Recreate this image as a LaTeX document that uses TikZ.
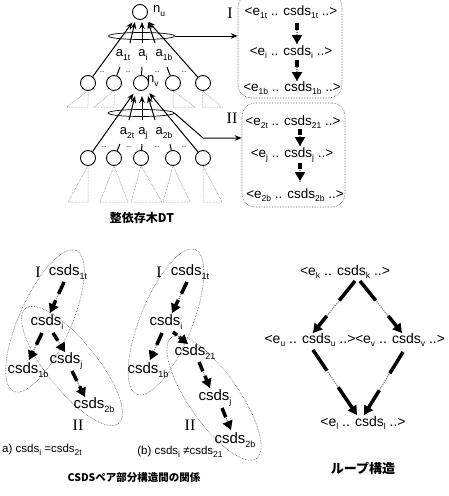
\documentclass[tikz,border=0pt]{standalone}
\usepackage{fontspec}
\setmainfont{Liberation Sans}
\newfontfamily\rmn{Liberation Serif}
\newfontfamily\cjk{Noto Sans CJK JP}
\usetikzlibrary{arrows.meta,shapes.geometric}
\newcommand\ssb[1]{\raisebox{-0.45ex}{\fontsize{8.5}{8.5}\selectfont #1}}
\newcommand\lsb[1]{\raisebox{-0.45ex}{\fontsize{9}{9}\selectfont #1}}
\newcommand\ent[2]{<e\ssb{#1} .. csds\ssb{#2} ..>}
\begin{document}
\begin{tikzpicture}[x=1pt,y=-1pt,
  txt/.style={inner sep=0pt, font=\fontsize{13.5}{14}\selectfont},
  ltxt/.style={inner sep=0pt, font=\fontsize{14}{14}\selectfont},
  low/.style={inner sep=0pt, font=\fontsize{15}{15}\selectfont},
  lab/.style={inner sep=0pt, font=\fontsize{13}{13}\selectfont},
  roman/.style={inner sep=0pt, font=\rmn\fontsize{16}{16}\selectfont},
  captx/.style={inner sep=0pt, font=\fontsize{11.5}{12}\selectfont},
  jcap/.style={inner sep=0pt, font=\cjk\bfseries\fontsize{12}{12}\selectfont},
  circ/.style={circle, draw, line width=0.9pt, minimum size=15pt, inner sep=0pt},
  ring/.style={ellipse, draw, line width=0.7pt, minimum width=66pt, minimum height=7pt, inner sep=0pt},
  tri/.style={draw, densely dotted, line width=0.5pt, black!60},
  dotsx/.style={inner sep=0pt, font=\fontsize{8}{8}\selectfont},
  tarr/.style={-{Stealth[length=7pt,width=5.5pt]}, line width=1pt},
  tick/.style={line width=1pt},
  boxd/.style={draw, densely dotted, black!65, line width=0.6pt, rounded corners=13pt},
  oval/.style={densely dotted, black!65, line width=0.6pt},
  hv/.style={preaction={draw,-,black!45,line width=1.2pt,densely dotted},
     line width=3.5pt, dash pattern=#1, -{Triangle[length=9pt,width=10pt]}}
]
\useasboundingbox[fill=white] (0,0) rectangle (449,496);

% ---------- top tree ----------
\node[circ] (root) at (140,12) {};
\node[lab, anchor=west] (nu) at (153,11) {n\ssb{u}};
\foreach \x [count=\i] in {88,114,141,173,203} {
  \node[circ] (c2\i) at (\x,83) {};
  \node[circ] (c3\i) at (\x,158) {};
}
\node[lab, anchor=west] (nv) at (147,81) {n\ssb{v}};
\node[ring] (e1) at (141.5,36) {};
\node[ring] (e2) at (141,113) {};
\node[lab] (a1t) at (123,55) {a\ssb{1t}};
\node[lab] (ai)  at (143,55) {a\ssb{i}};
\node[lab] (a1b) at (164,55) {a\ssb{1b}};
\node[lab] (a2t) at (127,133) {a\ssb{2t}};
\node[lab] (aj)  at (143,133) {a\ssb{j}};
\node[lab] (a2b) at (164,133) {a\ssb{2b}};
\foreach \x [count=\i] in {102,128,157,184} {
  \node[dotsx] (du\i) at (\x,72) {..};
}
\foreach \x [count=\i] in {104,129,157,184} {
  \node[dotsx] (dl\i) at (\x,147) {..};
}
% arrows into root
\coordinate (s1) at (130,43); \coordinate (s2) at (142,43); \coordinate (s3) at (155,43);
\draw[tarr, shorten >=5pt] (c21) -- (root);
\draw[tarr, shorten >=5pt] (c25) -- (root);
\draw[tarr] (s1) -- (135,22);
\draw[tarr] (s2) -- (142,22);
\draw[tarr] (s3) -- (148,22);
% arrows into n_v
\coordinate (r1) at (129,120); \coordinate (r2) at (142,120); \coordinate (r3) at (155,120);
\draw[tarr, shorten >=5pt] (c31) -- (c23);
\draw[tarr, shorten >=5pt] (c35) -- (c23);
\draw[tarr] (r1) -- (135,96);
\draw[tarr] (r2) -- (142,96);
\draw[tarr] (r3) -- (148,96);
% label ticks
\draw[tick] (120,67) -- (c22);
\draw[tick] (142,67) -- (c23);
\draw[tick] (167,67) -- (c24);
\draw[tick] (120,144) -- (c32);
\draw[tick] (142,144) -- (c33);
\draw[tick] (170,144) -- (c34);
% subtrees
\draw[tri] (c21.south) -- (67,107) -- (88,107) -- cycle;
\draw[tri] (c22.south) -- (94,107) -- (114,107) -- cycle;
\draw[tri] (c24.south) -- (173,107) -- (195,107) -- cycle;
\draw[tri] (c25.south) -- (202,107) -- (222,107) -- cycle;
\draw[tri] (c31.south) -- (68,202) -- (88,202) -- cycle;
\draw[tri] (c32.south) -- (100,202) -- (128,202) -- cycle;
\draw[tri] (c33.south) -- (131,202) -- (162,202) -- cycle;
\draw[tri] (c34.south) -- (163,202) -- (190,202) -- cycle;
\draw[tri] (c35.south) -- (203,202) -- (222,202) -- cycle;
\node[jcap] (capt) at (142,218) {整依存木DT};

% ---------- boxes I and II ----------
\node[boxd, minimum width=104pt, minimum height=104pt] (bI) at (290,46) {};
\node[boxd, minimum width=103pt, minimum height=104pt] (bII) at (293.5,155) {};
\node[roman] (lI) at (230,13) {I};
\node[roman] (lII) at (232,118) {II};
\node[txt] (t11) at (291,12) {\ent{1t}{1t}};
\node[txt] (t12) at (291,52) {\ent{i}{i}};
\node[txt] (t13) at (292,88) {\ent{1b}{1b}};
\node[txt] (t21) at (293,122) {\ent{2t}{21}};
\node[txt] (t22) at (292,155) {\ent{j}{j}};
\node[txt] (t23) at (295,195) {\ent{2b}{2b}};
\draw[hv={on 7pt off 5pt}] (297,23) -- (297,44);
\draw[hv={on 7pt off 5pt}] (297,60) -- (297,81);
\draw[hv={on 6pt off 5pt}] (300,129) -- (300,146);
\draw[hv={on 6pt off 5pt}] (300,163) -- (300,181);
\coordinate (k2) at (203,138);
\draw[tarr] (e1.east) -- (e1.east -| bI.west);
\draw[tarr] (e2.east) -- (k2) -- (k2 -| bII.west);

% ---------- (a) ----------
\draw[oval, rotate around={66:(45,321)}] (45,321) ellipse [x radius=77, y radius=26];
\draw[oval, rotate around={-51:(72,366)}] (72,366) ellipse [x radius=74, y radius=25];
\node[roman] (aI) at (38,272) {I};
\node[roman] (aII) at (78,425) {II};
\node[low] (a1) at (68,272) {csds\lsb{1t}};
\node[low] (a2) at (47,322) {csds\lsb{i}};
\node[low] (a3) at (28,370) {csds\lsb{1b}};
\node[low] (a4) at (66,361) {csds\lsb{j}};
\node[low] (a5) at (94,405) {csds\lsb{2b}};
\draw[hv={on 13pt off 7pt}] (64,282) -- (50,313);
\draw[hv={on 13pt off 7pt}] (42,333) -- (29,360);
\draw[hv={on 9pt off 5pt}] (53,333) -- (65,352);
\draw[hv={on 11pt off 6pt}] (72,371) -- (85,397);
\node[captx] (capa) at (42,450) {a) csds\ssb{i} =csds\ssb{2t}};

% ---------- (b) ----------
\draw[oval, rotate around={68:(166,322)}] (166,322) ellipse [x radius=78, y radius=26];
\draw[oval, rotate around={-55:(214,398)}] (214,398) ellipse [x radius=74, y radius=25];
\node[roman] (bI1) at (159,272) {I};
\node[roman] (bII1) at (190,425) {II};
\node[low] (b1) at (190,272) {csds\lsb{1t}};
\node[low] (b2) at (166,322) {csds\lsb{i}};
\node[low] (b3) at (148,370) {csds\lsb{1b}};
\node[low] (b4) at (195,352) {csds\lsb{21}};
\node[low] (b5) at (215,398) {csds\lsb{j}};
\node[low] (b6) at (235,440) {csds\lsb{2b}};
\draw[hv={on 13pt off 7pt}] (187,282) -- (172,313);
\draw[hv={on 13pt off 7pt}] (162,333) -- (150,360);
\draw[hv={on 5pt off 3pt}] (173,332) -- (188,344);
\draw[hv={on 10pt off 5pt}] (199,362) -- (210,388);
\draw[hv={on 10pt off 5pt}] (222,408) -- (231,430);
\node[captx] (capb) at (180,452) {(b) csds\ssb{i} ≠csds\ssb{21}};
\node[jcap, font=\cjk\bfseries\fontsize{10.5}{10.5}\selectfont] (capab) at (134,478) {CSDSペア部分構造間の関係};

% ---------- loop ----------
\node[ltxt] (lk) at (345,272) {\ent{k}{k}};
\node[ltxt] (lu) at (310,340) {\ent{u}{u}};
\node[ltxt] (lv) at (400,340) {\ent{v}{v}};
\node[ltxt] (ll) at (363,423) {\ent{l}{l}};
\draw[hv={on 25pt off 20pt}] (355,281) -- (313,333);
\draw[hv={on 25pt off 20pt}] (360,281) -- (402,333);
\draw[hv={on 25pt off 20pt}] (313,350) -- (357,415);
\draw[hv={on 25pt off 20pt}] (403,352) -- (364,415);
\node[jcap, font=\cjk\bfseries\fontsize{13}{13}\selectfont] (capl) at (363,468) {ループ構造};
\end{tikzpicture}
\end{document}
